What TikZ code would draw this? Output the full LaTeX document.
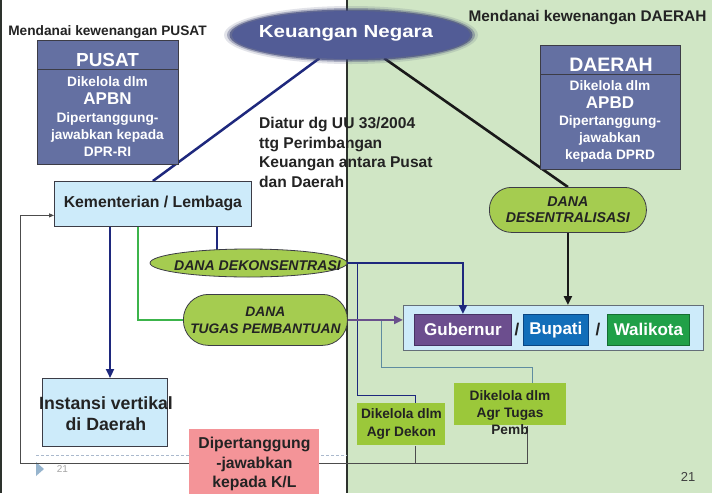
\documentclass[tikz,border=0pt]{standalone}
\usepackage{fontspec}
\setmainfont{Liberation Sans}
\usetikzlibrary{arrows.meta,shapes.geometric,calc}
\definecolor{greenbg}{RGB}{208,230,197}
\definecolor{navy}{RGB}{30,40,125}
\definecolor{lblue}{RGB}{205,235,250}
\definecolor{boxblue}{RGB}{100,112,162}
\definecolor{ellblue}{RGB}{82,92,150}
\definecolor{pill}{RGB}{165,204,80}
\definecolor{agr}{RGB}{155,200,58}
\definecolor{pinkbox}{RGB}{244,148,152}
\definecolor{gubc}{RGB}{108,78,142}
\definecolor{bupc}{RGB}{18,110,185}
\definecolor{walc}{RGB}{32,160,72}
\definecolor{tgreen}{RGB}{60,180,75}
\definecolor{purp}{RGB}{105,80,140}
\definecolor{tealc}{RGB}{95,140,160}
\definecolor{txt}{RGB}{35,35,35}
\definecolor{edge}{RGB}{60,60,70}
\definecolor{divc}{RGB}{45,50,45}
\definecolor{footc}{RGB}{150,180,205}
\definecolor{dashc}{RGB}{170,185,205}
\pgfdeclarelayer{back}
\pgfdeclarelayer{lines}
\pgfsetlayers{back,lines,main}
\newcommand{\fsz}[2]{\fontsize{#1pt}{#2pt}\selectfont}
\begin{document}
\begin{tikzpicture}[x=1pt,y=-1pt,
  box/.style={draw=edge, line width=0.8pt, inner sep=0pt, anchor=north west, text=txt, align=center},
  lbl/.style={inner sep=0pt, text=txt, align=center},
  pillbox/.style={draw=edge, line width=0.8pt, fill=pill, inner sep=0pt, anchor=north west, text=txt, align=center, font=\fsz{14.2}{16.5}\bfseries\itshape},
  navyline/.style={draw=navy, line width=2.5pt},
  blackline/.style={draw=black!90, line width=2.6pt},
  greenline/.style={draw=tgreen, line width=2.5pt},
  purpline/.style={draw=purp, line width=2.5pt},
  thinnavy/.style={draw=navy, line width=0.9pt},
  tealline/.style={draw=tealc, line width=0.9pt},
  fbline/.style={draw=black!70, line width=0.9pt},
  arr/.style={-{Triangle[length=9pt,width=8pt]}},
  fbarr/.style={-{Triangle[length=5pt,width=4pt]}},
  city/.style={draw, line width=0.8pt, inner sep=0pt, anchor=north west, text=white, font=\fsz{17}{19}\bfseries, minimum height=31pt}
]
\useasboundingbox (0,0) rectangle (712,493);

\begin{pgfonlayer}{back}
\fill[white] (0,0) rectangle (347,493);
\fill[greenbg] (347,0) rectangle (712,493);
\draw[line width=1.2pt, color=divc] (347,0) -- (347,493);
\draw[line width=2pt, color=divc] (1,0) -- (1,493);
\draw[dashc, line width=0.6pt, dash pattern=on 3pt off 2pt] (36,455) -- (347,455);
\fill[footc] (36,462) -- (44,469) -- (36,476) -- cycle;
\end{pgfonlayer}

% titles
\node[lbl, font=\fsz{13.7}{16}\bfseries] (tPusat) at (107.5,31.5) {Mendanai kewenangan PUSAT};
\node[lbl, font=\fsz{15.4}{18}\bfseries] (tDaerah) at (587.5,18) {Mendanai kewenangan DAERAH};

% Keuangan Negara
\fill[ellblue!75!black, opacity=0.15] (351,35) ellipse [x radius=127, y radius=29];
\fill[ellblue!80!black, opacity=0.35] (351,35) ellipse [x radius=124, y radius=27];
\fill[ellblue!85!black, opacity=0.7] (351,35) ellipse [x radius=121.5, y radius=25.5];
\node[ellipse, fill=ellblue, inner sep=0pt, minimum width=238pt, minimum height=48pt] (kn) at (351,35) {};
\node[lbl, text=white, font=\fsz{17.5}{20}\bfseries] (kntext) at (346,33) {\scalebox{1.17}[1]{Keuangan Negara}};

% PUSAT box
\node[box, fill=boxblue, minimum width=141pt, minimum height=124pt] (pusat) at (37,40) {};
\draw[edge, line width=0.8pt] ([yshift=-29pt]pusat.north west) -- ([yshift=-29pt]pusat.north east);
\node[lbl, text=white, font=\fsz{18.9}{21}\bfseries] (pusatH) at (107.5,60) {PUSAT};
\node[lbl, text=white, font=\fsz{13.7}{17}\bfseries] (pusatB) at (107.5,117) {Dikelola dlm\\[1pt]{\fsz{17}{19}APBN}\\[1pt]Dipertanggung-\\jawabkan kepada\\DPR-RI};

% DAERAH box
\node[box, fill=boxblue, minimum width=140pt, minimum height=124pt] (daerah) at (540,45) {};
\draw[edge, line width=0.8pt] ([yshift=-29pt]daerah.north west) -- ([yshift=-29pt]daerah.north east);
\node[lbl, text=white, font=\fsz{19.5}{21}\bfseries] (daerahH) at (611,64.5) {DAERAH};
\node[lbl, text=white, font=\fsz{13.7}{17}\bfseries] (daerahB) at (610,121) {Dikelola dlm\\[1pt]{\fsz{17}{19}APBD}\\Dipertanggung-\\jawabkan\\kepada DPRD};

% Diatur text
\node[lbl, anchor=north west, align=left, font=\fsz{15.6}{19.6}\bfseries] (diatur) at (259,117) {Diatur dg UU 33/2004\\ttg Perimbangan\\Keuangan antara Pusat\\dan Daerah};

% Kementerian
\node[box, fill=lblue, minimum width=197pt, minimum height=45pt, font=\fsz{15.8}{18}\bfseries] (kem) at (54,181) {Kementerian / Lembaga};

% Instansi
\node[box, fill=lblue, minimum width=125pt, minimum height=68pt] (inst) at (42,378) {};
\node[lbl, font=\fsz{17.7}{21}\bfseries] (insttext) at (106,413.5) {Instansi vertikal\\di Daerah};

% pills
\node[pillbox, rounded corners=22pt, minimum width=157pt, minimum height=45pt] (desen) at (489,187) {DANA\\DESENTRALISASI};
\node[ellipse, draw=edge, line width=0.8pt, fill=pill, inner sep=0pt, minimum width=197pt, minimum height=28pt] (dekon) at (248.5,263) {};
\node[lbl, font=\fsz{14.1}{16}\bfseries\itshape] (dekontext) at (257.5,266) {DANA DEKONSENTRASI};
\node[pillbox, rounded corners=25pt, minimum width=164pt, minimum height=51pt, font=\fsz{13.8}{17}\bfseries\itshape] (tugas) at (183,294) {DANA\\TUGAS PEMBANTUAN};

% container and cities
\node[box, draw={rgb,255:red,100;green,110;blue,120}, fill=lblue, minimum width=300pt, minimum height=45pt] (cont) at (403,305) {};
\node[city, fill=gubc, draw={rgb,255:red,70;green,50;blue,100}, minimum width=97pt] (gub) at (414,314) {Gubernur};
\node[city, fill=bupc, draw={rgb,255:red,10;green,70;blue,130}, minimum width=65pt] (bup) at (523,314) {Bupati};
\node[city, fill=walc, draw={rgb,255:red,20;green,110;blue,50}, minimum width=82pt] (wal) at (607,314) {Walikota};
\node[lbl, font=\fsz{17}{19}\bfseries] (sl1) at (517,330) {/};
\node[lbl, font=\fsz{17}{19}\bfseries] (sl2) at (598,330) {/};

% Agr boxes
\node[box, draw=none, fill=agr, minimum width=88pt, minimum height=42pt, font=\fsz{13.7}{18}\bfseries] (agrdek) at (357,403) {Dikelola dlm\\Agr Dekon};
\node[box, draw=none, fill=agr, minimum width=112pt, minimum height=42pt] (agrtug) at (454,383) {};
\node[lbl, font=\fsz{13.7}{17}\bfseries] (agrtugtext) at (510,413) {Dikelola dlm\\Agr Tugas\\Pemb};

% pink box
\node[box, draw=none, fill=pinkbox, minimum width=130pt, minimum height=70pt, font=\fsz{15.75}{19.5}\bfseries] (pinkk) at (189,429) {Dipertanggung\\-jawabkan\\kepada K/L};

% footer numbers
\node[lbl, text=black!35, font=\fsz{10}{12}] (pg1) at (62.5,469) {21};
\node[lbl, text=black!75, font=\fsz{13}{15}] (pg2) at (688,477) {21};

\coordinate (fbc) at (20,463);

\begin{pgfonlayer}{lines}
\draw[navyline] (kn) -- (kem.north);
\draw[blackline] (kn) -- (desen.north);
\draw[navyline] ([xshift=163pt]kem.south west) -- ([xshift=163pt]kem.south west |- dekon.center);
\draw[fbline] ([xshift=14pt]agrdek.south) -- ([xshift=14pt]agrdek.south |- fbc);
\draw[fbline, fbarr] ([xshift=17pt]agrtug.south) |- (fbc) |- ([yshift=-11.5pt]kem.west);
\end{pgfonlayer}

\draw[blackline, arr] (desen.south) -- (desen.south |- cont.north);
\draw[navyline, arr] ([xshift=56pt]kem.south west) -- ([xshift=56pt]kem.south west |- inst.north);
\draw[greenline] ([xshift=84pt]kem.south west) |- (tugas.west);
\draw[thinnavy] ($(dekon.east)+(10,0)$) |- ($(agrdek.north)+(14,-8)$) -- ($(agrdek.north)+(14,0)$);
\draw[navyline, arr] (dekon.east) -| (gub.north);
\draw[tealline] ($(tugas.east)+(34,0)$) |- ($(agrtug.north)+(22,-16)$) -- ($(agrtug.north)+(22,0)$);
\draw[purpline, arr] (tugas.east) -- (tugas.east -| cont.west);
\end{tikzpicture}
\end{document}
